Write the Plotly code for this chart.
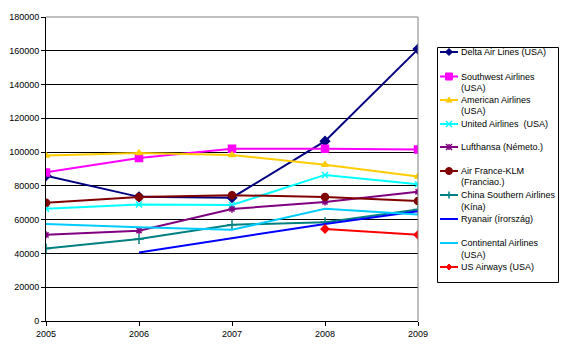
import plotly.graph_objects as go

years = [2005, 2006, 2007, 2008, 2009]

delta = [86000, 73500, 73000, 106500, 161000]
southwest = [88000, 96500, 102000, 102000, 101500]
american = [98000, 99500, 98300, 92500, 85500]
united = [66500, 69000, 68700, 86500, 81000]
lufthansa = [51000, 53500, 66300, 70500, 76500]
airfrance = [70000, 73400, 74500, 73400, 71000]
china_southern = [43000, 48500, 57000, 58500, 66000]
ryanair = [None, 40500, 49000, 57500, 65000]
continental = [57500, 55500, 54000, 66500, 63000]
usairways = [None, None, None, 54500, 51000]

names = [
    ["Delta Air Lines (USA)"],
    ["Southwest Airlines", "(USA)"],
    ["American Airlines", "(USA)"],
    ["United Airlines  (USA)"],
    ["Lufthansa (Németo.)"],
    ["Air France-KLM", "(Franciao.)"],
    ["China Southern Airlines", "(Kína)"],
    ["Ryanair (Írország)"],
    ["Continental Airlines", "(USA)"],
    ["US Airways (USA)"],
]
values = [delta, southwest, american, united, lufthansa, airfrance,
          china_southern, ryanair, continental, usairways]
colors = ["#000080", "#FF00FF", "#FFCC00", "#00FFFF", "#800080", "#800000",
          "#008080", "#0000FF", "#00CCFF", "#FF0000"]
symbols = ["diamond", "square", "triangle-up", "x-thin", "asterisk", "circle",
           "cross-thin", None, None, "diamond"]
sizes = [7, 7, 6, 6, 6, 7, 7, 0, 0, 6]

# plot area in pixels
L, R, T, B = 46, 418, 17, 321
def px(x):
    return (x - L) / (R - L)
def py(y):
    return (B - y) / (B - T)

fig = go.Figure()
for nm, vals, color, sym, size in zip(names, values, colors, symbols, sizes):
    if sym:
        fig.add_trace(go.Scatter(
            x=years, y=vals, name=" ".join(nm), mode="lines+markers",
            line=dict(color=color, width=2), showlegend=False,
            marker=dict(symbol=sym, size=size, color=color,
                        line=dict(color=color, width=1.5)),
        ))
    else:
        fig.add_trace(go.Scatter(
            x=years, y=vals, name=" ".join(nm), mode="lines",
            line=dict(color=color, width=2), showlegend=False,
        ))

def path(points, close=True):
    s = ""
    for i, (x, y) in enumerate(points):
        s += ("M" if i == 0 else "L") + f"{px(x):.5f},{py(y):.5f} "
    return s + ("Z" if close else "")

def marker_shapes(sym, cx, cy, size, color):
    r = size / 2
    out = []
    fill = dict(type="path", xref="paper", yref="paper", fillcolor=color,
                line=dict(color=color, width=1))
    stroke = dict(type="path", xref="paper", yref="paper",
                  line=dict(color=color, width=1.5))
    if sym == "diamond":
        out.append(dict(fill, path=path([(cx, cy - r), (cx + r, cy), (cx, cy + r), (cx - r, cy)])))
    elif sym == "square":
        out.append(dict(fill, path=path([(cx - r, cy - r), (cx + r, cy - r), (cx + r, cy + r), (cx - r, cy + r)])))
    elif sym == "triangle-up":
        out.append(dict(fill, path=path([(cx, cy - r), (cx + r, cy + r * 0.7), (cx - r, cy + r * 0.7)])))
    elif sym == "circle":
        out.append(dict(type="circle", xref="paper", yref="paper",
                        x0=px(cx - r), x1=px(cx + r), y0=py(cy + r), y1=py(cy - r),
                        fillcolor=color, line=dict(color=color, width=1)))
    elif sym in ("x-thin", "asterisk"):
        out.append(dict(stroke, path=path([(cx - r, cy - r), (cx + r, cy + r)], False)))
        out.append(dict(stroke, path=path([(cx - r, cy + r), (cx + r, cy - r)], False)))
        if sym == "asterisk":
            out.append(dict(stroke, path=path([(cx, cy - r), (cx, cy + r)], False)))
    elif sym == "cross-thin":
        out.append(dict(stroke, path=path([(cx, cy - r), (cx, cy + r)], False)))
    return out

# manual legend (Excel-style)
entry_y = [52, 76.5, 100, 124, 147, 171, 195, 219, 243, 267]
shapes = [
    dict(type="line", xref="paper", yref="paper", x0=0, x1=1, y0=1, y1=1,
         line=dict(color="#808080", width=1)),
    dict(type="line", xref="paper", yref="paper", x0=1, x1=1, y0=0, y1=1,
         line=dict(color="#808080", width=1)),
    dict(type="rect", xref="paper", yref="paper", x0=px(437.5), x1=px(558.5),
         y0=py(47.5), y1=py(282.5), line=dict(color="black", width=1),
         fillcolor="rgba(0,0,0,0)"),
]
annotations = []
for nm, color, sym, size, ey in zip(names, colors, symbols, sizes, entry_y):
    shapes.append(dict(type="line", xref="paper", yref="paper",
                       x0=px(440), x1=px(458), y0=py(ey), y1=py(ey),
                       line=dict(color=color, width=2)))
    if sym:
        shapes.extend(marker_shapes(sym, 449, ey, size, color))
    for i, line in enumerate(nm):
        annotations.append(dict(
            xref="paper", yref="paper", x=px(459), y=py(ey + i * 11.5),
            text=line, showarrow=False, xanchor="left", yanchor="middle",
            font=dict(size=9, color="black"),
        ))

fig.update_layout(
    width=566, height=353,
    margin=dict(l=L, r=566 - R, t=T, b=353 - B, autoexpand=False),
    paper_bgcolor="white", plot_bgcolor="white",
    font=dict(family="Liberation Sans, Arial, sans-serif", size=9, color="black"),
    showlegend=False,
    xaxis=dict(
        range=[2005, 2009], tickvals=years, ticktext=[str(y) for y in years],
        showgrid=False, zeroline=False, showline=True, linecolor="black",
        linewidth=1, ticks="outside", ticklen=4, tickcolor="black",
        tickfont=dict(size=9),
    ),
    yaxis=dict(
        range=[0, 180000], dtick=20000, tickformat="d",
        showgrid=True, gridcolor="black", gridwidth=1, zeroline=False,
        showline=True, linecolor="black", linewidth=1,
        ticks="outside", ticklen=4, tickcolor="black",
        tickfont=dict(size=9),
    ),
    shapes=shapes,
    annotations=annotations,
)

fig.write_html("out.html")
